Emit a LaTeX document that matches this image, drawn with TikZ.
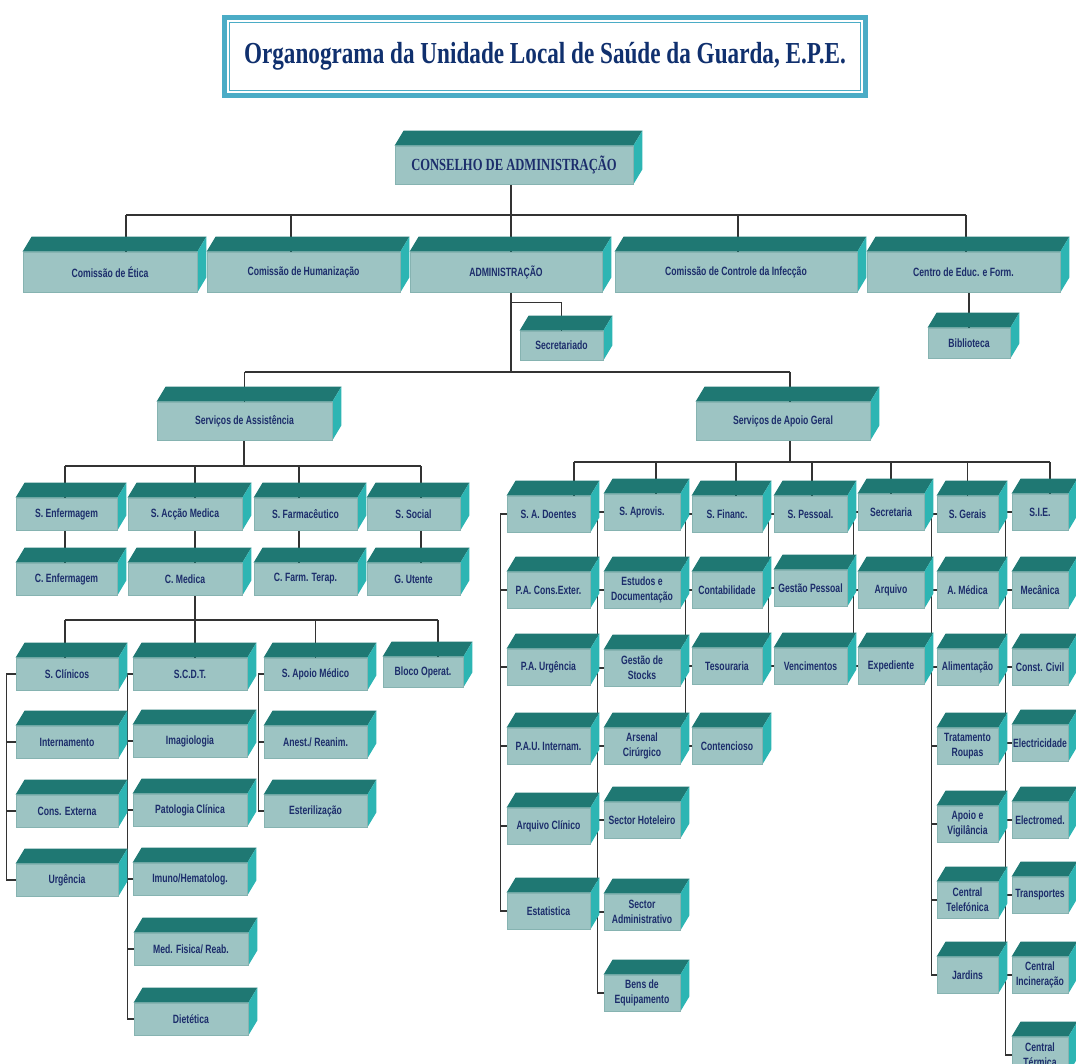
\documentclass[tikz,border=0pt]{standalone}
\usepackage{fontspec}
\setmainfont{Liberation Sans}
\newfontfamily\boxfont[FakeStretch=0.72]{Liberation Sans}
\newfontfamily\headfont[FakeStretch=0.74]{Liberation Serif}
\newfontfamily\bigheadfont[FakeStretch=0.76]{Liberation Serif}
\usetikzlibrary{backgrounds}

\definecolor{boxfront}{HTML}{9DC4C3}
\definecolor{boxtop}{HTML}{1F7873}
\definecolor{boxside}{HTML}{2DB5B3}
\definecolor{boxline}{HTML}{86B3B1}
\definecolor{boxtext}{HTML}{1C2D6B}
\definecolor{titleblue}{HTML}{4BACC6}
\definecolor{titletext}{HTML}{10306E}
\definecolor{linkgray}{HTML}{333333}

\tikzset{
  orgbox/.style={fill=boxfront, draw=boxline, line width=.8pt, text=boxtext,
    font=\boxfont\bfseries\fontsize{12}{15}\selectfont, align=center, inner sep=1pt,
    minimum height=36, minimum width=#1,
    append after command={\pgfextra{\let\bxn\tikzlastnode
      \fill[boxtop] (\bxn.north west) -- ++(9,-15) -- ([shift={(9,-15)}]\bxn.north east) -- (\bxn.north east) -- cycle;
      \fill[boxside] (\bxn.north east) -- ++(9,-15) -- ([shift={(9,-15)}]\bxn.south east) -- (\bxn.south east) -- cycle;}}},
  orgbox/.default=80,
  titlebox/.style={draw=titleblue, line width=5pt, fill=white, text=titletext,
    minimum width=641, minimum height=78,
    font=\bigheadfont\bfseries\fontsize{30.5}{34}\selectfont},
  link/.style={draw=linkgray, line width=1.2pt},
}

\begin{document}
\begin{tikzpicture}[x=1pt, y=-1pt]
\useasboundingbox (0,0) rectangle (1076,1064);

% title
\node[titlebox] (title) at (545,56.5) {Organograma da Unidade Local de Saúde da Guarda, E.P.E.};
\draw[titleblue, line width=1.3pt] ([shift={(7.5,7.5)}]title.north west) rectangle ([shift={(-7.5,-7.5)}]title.south east);

% board and top row
\node[orgbox=238, minimum height=38, font=\headfont\bfseries\fontsize{17}{20}\selectfont] (cons) at (514,165) {CONSELHO DE ADMINISTRAÇÃO};
\node[orgbox=174, minimum height=40] (etica) at (110,272) {Comissão de Ética};
\node[orgbox=193, minimum height=40] (human) at (303.5,272) {Comissão de Humanização};
\node[orgbox=192, minimum height=40] (admin) at (506,272) {ADMINISTRAÇÃO};
\node[orgbox=242, minimum height=40] (infec) at (736,272) {Comissão de Controle da Infecção};
\node[orgbox=193, minimum height=40] (educ) at (963.5,272) {Centro de Educ. e Form.};
\node[orgbox=83, minimum height=29] (secret) at (561.5,345.5) {Secretariado};
\node[orgbox=82, minimum height=30] (biblio) at (969,343) {Biblioteca};
\node[orgbox=175, minimum height=38] (assist) at (244.5,421) {Serviços de Assistência};
\node[orgbox=174, minimum height=38] (apoio) at (783,421) {Serviços de Apoio Geral};

% assistencia
\node[orgbox=101, minimum height=32] (senf) at (66.5,514) {S. Enfermagem};
\node[orgbox=114, minimum height=32] (sacm) at (185,514) {S. Acção Medica};
\node[orgbox=103, minimum height=32] (sfarm) at (305.5,514) {S. Farmacêutico};
\node[orgbox=93, minimum height=32] (ssoc) at (413.5,514) {S. Social};
\node[orgbox=101, minimum height=32] (cenf) at (66.5,579) {C. Enfermagem};
\node[orgbox=114, minimum height=32] (cmed) at (185,579) {C. Medica};
\node[orgbox=103, minimum height=32] (cfarm) at (305.5,579) {C. Farm. Terap.};
\node[orgbox=93, minimum height=32] (guten) at (413.5,579) {G. Utente};

\node[orgbox=102, minimum height=32] (sclin) at (67,674) {S. Clínicos};
\node[orgbox=102, minimum height=32] (intern) at (67,742) {Internamento};
\node[orgbox=102, minimum height=32] (consex) at (67,811) {Cons. Externa};
\node[orgbox=102, minimum height=32] (urg) at (67,880) {Urgência};
\node[orgbox=114, minimum height=32] (scdt) at (190,674) {S.C.D.T.};
\node[orgbox=114, minimum height=32] (imag) at (190,741) {Imagiologia};
\node[orgbox=114, minimum height=32] (patol) at (190,810) {Patologia Clínica};
\node[orgbox=114, minimum height=32] (imuno) at (190,879) {Imuno/Hematolog.};
\node[orgbox=114, minimum height=32] (medfis) at (191,949) {Med. Fisica/ Reab.};
\node[orgbox=114, minimum height=32] (dietet) at (191,1019) {Dietética};
\node[orgbox=103, minimum height=32] (sapm) at (315.5,674) {S. Apoio Médico};
\node[orgbox=103, minimum height=32] (anest) at (315.5,742) {Anest./ Reanim.};
\node[orgbox=103, minimum height=32] (ester) at (315.5,811) {Esterilização};
\node[orgbox=80, minimum height=30] (bloco) at (423,672) {Bloco Operat.};

% apoio geral
\node[orgbox=83] (sad) at (548.5,514) {S. A. Doentes};
\node[orgbox=83] (pace) at (548.5,590) {P.A. Cons.Exter.};
\node[orgbox=83] (paurg) at (548.5,667) {P.A. Urgência};
\node[orgbox=83] (pauint) at (548.5,746) {P.A.U. Internam.};
\node[orgbox=83] (arqcl) at (548.5,826) {Arquivo Clínico};
\node[orgbox=83] (estat) at (548.5,911) {Estatistica};

\node[orgbox=76] (sapr) at (642,512) {S. Aprovis.};
\node[orgbox=76] (estud) at (642,590) {Estudos e\\Documentação};
\node[orgbox=76] (gstock) at (642,668) {Gestão de\\Stocks};
\node[orgbox=76] (arsen) at (642,746) {Arsenal\\Cirúrgico};
\node[orgbox=76] (hotel) at (642,820) {Sector Hoteleiro};
\node[orgbox=76] (sadmin) at (642,912) {Sector\\Administrativo};
\node[orgbox=76] (bens) at (642,993) {Bens de\\Equipamento};

\node[orgbox=70] (sfin) at (727,514) {S. Financ.};
\node[orgbox=70] (contab) at (727,590) {Contabilidade};
\node[orgbox=70] (tesou) at (727,666) {Tesouraria};
\node[orgbox=70] (conten) at (727,746) {Contencioso};

\node[orgbox=73] (spes) at (810.5,514) {S. Pessoal.};
\node[orgbox=73] (gpes) at (810.5,588) {Gestão Pessoal};
\node[orgbox=73] (venc) at (810.5,666) {Vencimentos};

\node[orgbox=66] (secr) at (891,512) {Secretaria};
\node[orgbox=66] (arquiv) at (891,590) {Arquivo};
\node[orgbox=66] (exped) at (891,666) {Expediente};

\node[orgbox=61] (sger) at (967.5,514) {S. Gerais};
\node[orgbox=61] (amed) at (967.5,590) {A. Médica};
\node[orgbox=61] (alim) at (967.5,667) {Alimentação};
\node[orgbox=61] (trat) at (967.5,746) {Tratamento\\Roupas};
\node[orgbox=61] (vigil) at (967.5,824) {Apoio e\\Vigilância};
\node[orgbox=61] (ctel) at (967.5,900) {Central\\Telefónica};
\node[orgbox=61] (jard) at (967.5,975) {Jardins};

\node[orgbox=56] (sie) at (1040,512) {S.I.E.};
\node[orgbox=56] (mec) at (1040,590) {Mecânica};
\node[orgbox=56] (ccivil) at (1040,667) {Const. Civil};
\node[orgbox=56] (elect) at (1040,743) {Electricidade};
\node[orgbox=56] (electm) at (1040,820) {Electromed.};
\node[orgbox=56] (transp) at (1040,895) {Transportes};
\node[orgbox=56] (cinc) at (1040,975) {Central\\Incineração};
\node[orgbox=56] (cterm) at (1040,1055) {Central\\Térmica};

\coordinate (bus1) at (511,215);
\coordinate (bus2) at (511,372);
\coordinate (bus3) at (244,466);
\coordinate (bus4) at (195,620);
\coordinate (bus5) at (790,462);

\begin{scope}[on background layer]
% top level
\draw[link] (cons.south -| bus1) -- (bus1);
\draw[link] ([xshift=16]etica.north |- bus1) -- ([xshift=2.5]educ.north |- bus1);
\draw[link] ([xshift=16]etica.north |- bus1) -- ([xshift=16]etica.north);
\draw[link] ([xshift=-12.5]human.north |- bus1) -- ([xshift=-12.5]human.north);
\draw[link] ([xshift=5]admin.north |- bus1) -- ([xshift=5]admin.north);
\draw[link] ([xshift=2]infec.north |- bus1) -- ([xshift=2]infec.north);
\draw[link] ([xshift=2.5]educ.north |- bus1) -- ([xshift=2.5]educ.north);
\draw[link] (biblio.north |- educ.south) -- (biblio.north);
\draw[link] ([xshift=5]admin.south) -- (bus2);
\draw[link] ([xshift=5,yshift=-10]admin.south) -| (secret.north);
\draw[link] (assist.north |- bus2) -- ([xshift=7]apoio.north |- bus2);
\draw[link] (assist.north |- bus2) -- (assist.north);
\draw[link] ([xshift=7]apoio.north |- bus2) -- ([xshift=7]apoio.north);

% assistencia
\draw[link] (assist.south -| bus3) -- (bus3);
\draw[link] ([xshift=-1.5]senf.north |- bus3) -- ([xshift=7.5]ssoc.north |- bus3);
\draw[link] ([xshift=-1.5]senf.north |- bus3) -- ([xshift=-1.5]cenf.north);
\draw[link] ([xshift=10]sacm.north |- bus3) -- ([xshift=10]cmed.north);
\draw[link] ([xshift=-6.5]sfarm.north |- bus3) -- ([xshift=-6.5]cfarm.north);
\draw[link] ([xshift=7.5]ssoc.north |- bus3) -- ([xshift=7.5]guten.north);
\draw[link] ([xshift=10]cmed.south) -- (bus4);
\draw[link] ([xshift=-2]sclin.north |- bus4) -- ([xshift=15]bloco.north |- bus4);
\draw[link] ([xshift=-2]sclin.north |- bus4) -- ([xshift=-2]sclin.north);
\draw[link] ([xshift=5]scdt.north |- bus4) -- ([xshift=5]scdt.north);
\draw[link] (sapm.north |- bus4) -- (sapm.north);
\draw[link] ([xshift=15]bloco.north |- bus4) -- ([xshift=15]bloco.north);

\draw[link] (sclin.west) -- ++(-9,0) |- (urg.west);
\draw[link] (intern.west) -- ++(-9,0);
\draw[link] (consex.west) -- ++(-9,0);
\draw[link] (scdt.west) -- ++(-5,0) |- (dietet.west);
\draw[link] (imag.west) -- ++(-5,0);
\draw[link] (patol.west) -- ++(-5,0);
\draw[link] (imuno.west) -- ++(-5,0);
\draw[link] (medfis.west) -- ++(-6,0);
\draw[link] (sapm.west) -- ++(-5,0) |- (ester.west);
\draw[link] (anest.west) -- ++(-5,0);

% apoio geral
\draw[link] ([xshift=7]apoio.south) -- (bus5);
\draw[link] ([xshift=25.5]sad.north |- bus5) -- ([xshift=10]sie.north |- bus5);
\draw[link] ([xshift=25.5]sad.north |- bus5) -- ([xshift=25.5]sad.north);
\draw[link] ([xshift=14]sapr.north |- bus5) -- ([xshift=14]sapr.north);
\draw[link] ([xshift=9]sfin.north |- bus5) -- ([xshift=9]sfin.north);
\draw[link] ([xshift=1.5]spes.north |- bus5) -- ([xshift=1.5]spes.north);
\draw[link] (secr.north |- bus5) -- (secr.north);
\draw[link] (sger.north |- bus5) -- (sger.north);
\draw[link] ([xshift=10]sie.north |- bus5) -- ([xshift=10]sie.north);

\draw[link] (sad.west) -- ++(-6,0) |- (estat.west);
\draw[link] (pace.west) -- ++(-6,0);
\draw[link] (paurg.west) -- ++(-6,0);
\draw[link] (pauint.west) -- ++(-6,0);
\draw[link] (arqcl.west) -- ++(-6,0);
\draw[link] (sapr.west) -- ++(-6,0) |- (bens.west);
\draw[link] (estud.west) -- ++(-6,0);
\draw[link] (gstock.west) -- ++(-6,0);
\draw[link] (arsen.west) -- ++(-6,0);
\draw[link] (hotel.west) -- ++(-6,0);
\draw[link] (sadmin.west) -- ++(-6,0);
\draw[link] (sfin.west) -- ++(-6,0) |- (conten.west);
\draw[link] (contab.west) -- ++(-6,0);
\draw[link] (tesou.west) -- ++(-6,0);
\draw[link] (spes.west) -- ++(-5,0) |- (venc.west);
\draw[link] (gpes.west) -- ++(-5,0);
\draw[link] (secr.west) -- ++(-4,0) |- (exped.west);
\draw[link] (arquiv.west) -- ++(-4,0);
\draw[link] (sger.west) -- ++(-5,0) |- (jard.west);
\draw[link] (amed.west) -- ++(-5,0);
\draw[link] (alim.west) -- ++(-5,0);
\draw[link] (trat.west) -- ++(-5,0);
\draw[link] (vigil.west) -- ++(-5,0);
\draw[link] (ctel.west) -- ++(-5,0);
\draw[link] (sie.west) -- ++(-6,0) |- (cterm.west);
\draw[link] (mec.west) -- ++(-6,0);
\draw[link] (ccivil.west) -- ++(-6,0);
\draw[link] (elect.west) -- ++(-6,0);
\draw[link] (electm.west) -- ++(-6,0);
\draw[link] (transp.west) -- ++(-6,0);
\draw[link] (cinc.west) -- ++(-6,0);
\end{scope}
\end{tikzpicture}
\end{document}
